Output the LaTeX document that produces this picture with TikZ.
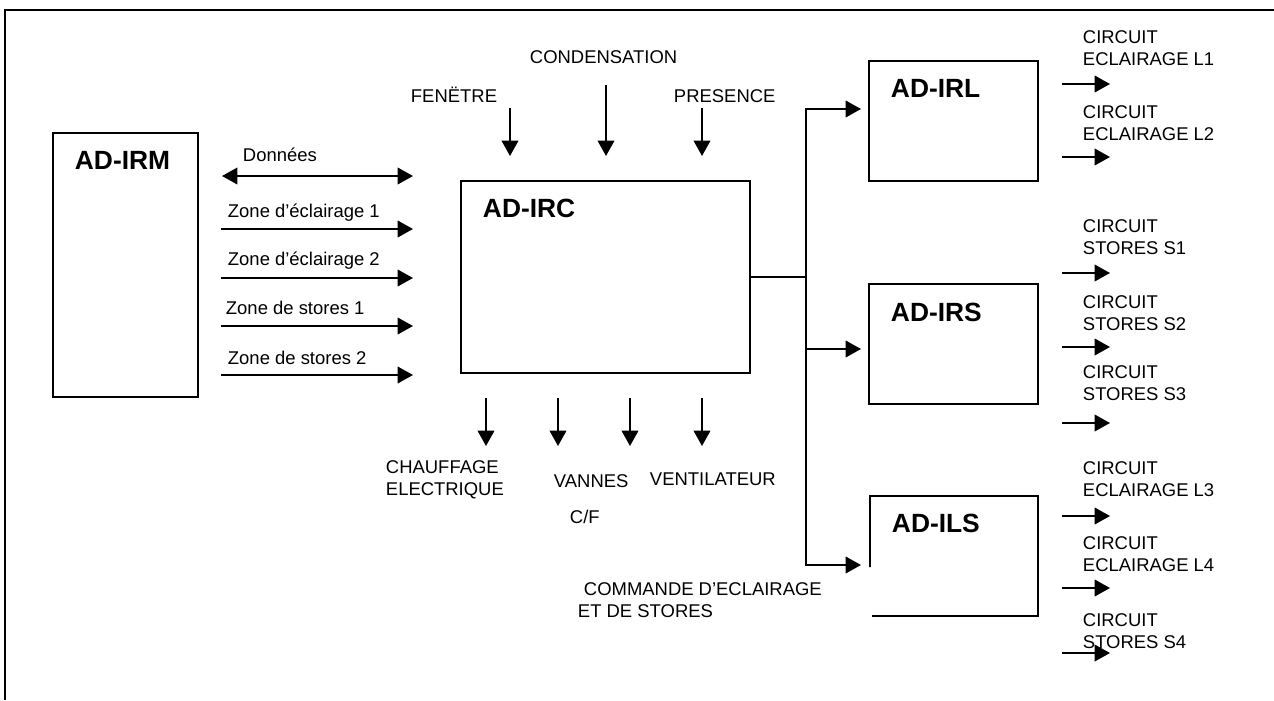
\documentclass[tikz,border=0pt]{standalone}
\usepackage{fontspec}
\setmainfont{Liberation Sans}
\usetikzlibrary{arrows.meta}
\begin{document}
\begin{tikzpicture}[x=0.02cm,y=-0.02cm,
  line width=1.1pt,
  arr/.style={-{Triangle[length=8.8pt,width=9.5pt]}},
  darr/.style={{Triangle[length=8.8pt,width=9.5pt]}-{Triangle[length=8.8pt,width=9.5pt]}},
  box/.style={draw,line width=1.1pt,inner sep=0pt,outer sep=0pt},
  openbox/.style={inner sep=0pt,outer sep=0pt},
  title/.style={font=\fontsize{15}{18}\selectfont\bfseries,inner sep=0pt,anchor=base west},
  lbl/.style={font=\fontsize{10.5}{12.5}\selectfont,inner sep=0pt,anchor=base west},
  lbltwo/.style={font=\fontsize{10.5}{12.5}\selectfont,inner sep=0pt,anchor=north west,align=left},
]
\useasboundingbox (0,0) rectangle (1274,700);
% outer frame (cut by the picture edge on the right and bottom)
\draw[line width=1.3pt] (5,700) -- (5,10) -- (1274,10);

% boxes
\node[box,minimum width=2.9cm,minimum height=5.28cm] (irm) at (125.5,265) {};
\node[box,minimum width=5.78cm,minimum height=3.84cm] (irc) at (605.5,277) {};
\node[box,minimum width=3.38cm,minimum height=2.4cm] (irl) at (953.5,121) {};
\node[box,minimum width=3.38cm,minimum height=2.4cm] (irs) at (953.5,344) {};
\node[openbox,minimum width=3.36cm,minimum height=2.4cm] (ils) at (954,556) {};
\coordinate (ilsgap) at (870,567);
\coordinate (ilsbot) at (872,616);
\draw (ilsgap) -- (ils.north west) -- (ils.north east) -- (ils.south east) -- (ilsbot);

% titles
\node[title] (tirm) at (74,169) {AD-IRM};
\node[title] (tirc) at (482,217) {AD-IRC};
\node[title] (tirl) at (890,97) {AD-IRL};
\node[title] (tirs) at (890,321) {AD-IRS};
\node[title] (tils) at (891,532) {AD-ILS};

% left-side links AD-IRM -> AD-IRC
\coordinate (dA) at (222,176); \coordinate (dB) at (413,176);
\draw[darr] (dA) -- (dB);
\node[lbl] (ldon) at (242,161) {Données};
\foreach \n/\y in {za/229,zb/278,zc/326,zd/375}{
  \coordinate (\n s) at (221,\y); \coordinate (\n e) at (413,\y);
  \draw[arr] (\n s) -- (\n e);
}
\node[lbl] (lza) at (227,217) {Zone d’éclairage 1};
\node[lbl] (lzb) at (227,265) {Zone d’éclairage 2};
\node[lbl] (lzc) at (225,314) {Zone de stores 1};
\node[lbl] (lzd) at (227,364) {Zone de stores 2};

% top inputs
\node[lbl] (lcond) at (529,63) {CONDENSATION};
\node[lbl] (lfen) at (410,102) {FENËTRE};
\node[lbl] (lpres) at (673,102) {PRESENCE};
\coordinate (fs) at (510,108); \coordinate (fe) at (510,156);
\coordinate (cs) at (606,85);  \coordinate (ce) at (606,156);
\coordinate (ps) at (702,108); \coordinate (pe) at (702,156);
\draw[arr] (fs) -- (fe);
\draw[arr] (cs) -- (ce);
\draw[arr] (ps) -- (pe);

% bottom outputs
\foreach \n/\x in {ba/486,bb/558,bc/630,bd/702}{
  \coordinate (\n s) at (\x,398); \coordinate (\n e) at (\x,446);
  \draw[arr] (\n s) -- (\n e);
}
\node[lbltwo] (lchauf) at (385,460) {CHAUFFAGE\\ELECTRIQUE};
\node[lbl] (lvan) at (553,487) {VANNES};
\node[lbl] (lcf) at (569,523) {C/F};
\node[lbl] (lvent) at (649,485) {VENTILATEUR};
\node[lbl] (lcom1) at (583,595) {COMMANDE D’ECLAIRAGE};
\node[lbl] (lcom2) at (577,617) {ET DE STORES};

% bus from AD-IRC to the three modules
\coordinate (bus) at (806,277);
\coordinate (irlin) at (861,109);
\coordinate (irsin) at (861,349);
\coordinate (ilsin) at (861,565);
\draw (irc.east) -- (bus);
\draw[arr] (bus) |- (irlin);
\draw[arr] (bus) |- (irsin);
\draw[arr] (bus) |- (ilsin);

% right outputs
\foreach \n/\y in {ra/84,rb/157,rc/273,rd/347,re/423,rf/516,rg/588,rh/653}{
  \coordinate (\n s) at (1062,\y); \coordinate (\n e) at (1110,\y);
  \draw[arr] (\n s) -- (\n e);
}
\node[lbltwo] (lra) at (1082,30)  {CIRCUIT\\ECLAIRAGE L1};
\node[lbltwo] (lrb) at (1082,105) {CIRCUIT\\ECLAIRAGE L2};
\node[lbltwo] (lrc) at (1082,219) {CIRCUIT\\STORES S1};
\node[lbltwo] (lrd) at (1082,295) {CIRCUIT\\STORES S2};
\node[lbltwo] (lre) at (1082,365) {CIRCUIT\\STORES S3};
\node[lbltwo] (lrf) at (1082,461) {CIRCUIT\\ECLAIRAGE L3};
\node[lbltwo] (lrg) at (1082,536) {CIRCUIT\\ECLAIRAGE L4};
\node[lbltwo] (lrh) at (1082,613) {CIRCUIT\\STORES S4};
\end{tikzpicture}
\end{document}
